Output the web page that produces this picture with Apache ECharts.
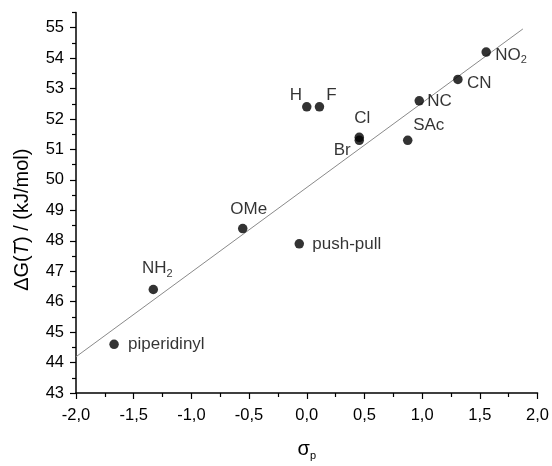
<!DOCTYPE html>
<html><head><meta charset="utf-8">
<script src="https://cdn.jsdelivr.net/npm/echarts@6/dist/echarts.min.js"></script>
<style>html,body{margin:0;padding:0;background:#fff}#c{width:552px;height:466px}</style>
</head><body><div id="c"></div>
<script>
// data
var names = ['piperidinyl','NH2','OMe','push-pull','H','F','Cl','Br','SAc','NC','CN','NO2'];
var sigmaP = [-1.67,-1.33,-0.555,-0.065,0.0,0.11,0.455,0.455,0.875,0.975,1.31,1.555];
var deltaG = [44.6,46.4,48.4,47.9,52.4,52.4,51.4,51.3,51.3,52.6,53.3,54.2];
var fitX = [-2.0, 1.873];
var fitY = [44.19, 54.96];
var xTicks = [-2.0,-1.5,-1.0,-0.5,0.0,0.5,1.0,1.5,2.0];
var yTicks = [43,44,45,46,47,48,49,50,51,52,53,54,55];
var yMinorTicks = [43.5,44.5,45.5,46.5,47.5,48.5,49.5,50.5,51.5,52.5,53.5,54.5,55.5];

// label display & placement (style only)
var labelText = {
  'NH2': '{n|NH}{s|2}',
  'NO2': '{n|NO}{s|2}'
};
var labelPlace = {
  'piperidinyl': {align:'left', offset:[14,0]},
  'NH2': {align:'center', offset:[4,-21]},
  'OMe': {align:'center', offset:[6,-19]},
  'push-pull': {align:'left', offset:[13,0]},
  'H': {align:'center', offset:[-11,-12]},
  'F': {align:'center', offset:[12,-12]},
  'Cl': {align:'center', offset:[3,-19]},
  'Br': {align:'center', offset:[-17,10]},
  'SAc': {align:'center', offset:[21,-15]},
  'NC': {align:'left', offset:[8,1]},
  'CN': {align:'left', offset:[9,4]},
  'NO2': {align:'left', offset:[9,3]}
};

var FONT = "Arial, 'Liberation Sans', sans-serif";
var rich = {
  n: {fontSize:17, fontFamily:FONT, color:'#000'},
  s: {fontSize:11, fontFamily:FONT, color:'#000', verticalAlign:'bottom', padding:[10,0,0,0]}
};

var pts = names.map(function(n,i){
  var p = labelPlace[n];
  return {
    name: n,
    value: [sigmaP[i], deltaG[i]],
    label: {
      show: true,
      position: 'inside',
      formatter: labelText[n] || n,
      align: p.align,
      verticalAlign: 'middle',
      offset: p.offset,
      fontSize: 17, fontFamily: FONT, color: '#000',
      rich: rich
    }
  };
});

var fitData = fitX.map(function(x,i){ return [x, fitY[i]]; });

var chart = echarts.init(document.getElementById('c'), null, {renderer:'canvas'});
chart.setOption({
  animation: false,
  backgroundColor: '#fff',
  grid: {left:76, right:13, top:12.5, bottom:73, containLabel:false},
  xAxis: {
    type: 'value', min: -2, max: 2, interval: 0.5,
    name: '{g|σ}{s|p}', nameLocation: 'middle', nameGap: 45,
    nameTextStyle: {
      rich: {
        g: {fontSize:20, fontFamily:FONT, color:'#000'},
        s: {fontSize:11, fontFamily:FONT, color:'#000', verticalAlign:'bottom', padding:[12,0,0,0]}
      }
    },
    axisLine: {show:true, onZero:false, lineStyle:{color:'#000', width:1.5}},
    axisTick: {show:true, inside:false, length:6, lineStyle:{color:'#000', width:1.2}},
    minorTick: {show:true, splitNumber:2, length:4, lineStyle:{color:'#000', width:1.2}},
    splitLine: {show:false},
    minorSplitLine: {show:false},
    axisLabel: {
      fontSize:16.5, fontFamily:FONT, color:'#000', margin:14,
      formatter: function(v){ return v.toFixed(1).replace('.', ','); }
    }
  },
  yAxis: [{
    type: 'value', min: 43, max: 55.5,
    name: '{n|ΔG(}{i|T}{n|) / (kJ/mol)}', nameLocation: 'middle', nameGap: 44,
    nameTextStyle: {
      padding: [0, 34, 0, 0],
      rich: {
        n: {fontSize:20, fontFamily:FONT, color:'#000'},
        i: {fontSize:20, fontFamily:FONT, color:'#000', fontStyle:'italic'}
      }
    },
    axisLine: {show:true, onZero:false, lineStyle:{color:'#000', width:1.5}},
    axisTick: {show:true, inside:false, length:6, customValues: yTicks, lineStyle:{color:'#000', width:1.2}},
    splitLine: {show:false},
    axisLabel: {
      customValues: yTicks,
      fontSize:16.5, fontFamily:FONT, color:'#000', margin:12,
      formatter: function(v){ return String(v); }
    }
  }, {
    type: 'value', min: 43, max: 55.5, position: 'left',
    axisLine: {show:false, onZero:false},
    axisTick: {show:true, inside:false, length:4, customValues: yMinorTicks, lineStyle:{color:'#000', width:1.2}},
    axisLabel: {show:false},
    splitLine: {show:false}
  }],
  series: [{
    type: 'line',
    data: fitData,
    showSymbol: false,
    symbol: 'none',
    lineStyle: {color:'#8a8a8a', width:1},
    silent: true,
    z: 1
  }, {
    type: 'scatter',
    data: pts,
    symbol: 'circle',
    symbolSize: 9.5,
    itemStyle: {color:'#000'},
    z: 3
  }]
});
</script>
</body></html>
